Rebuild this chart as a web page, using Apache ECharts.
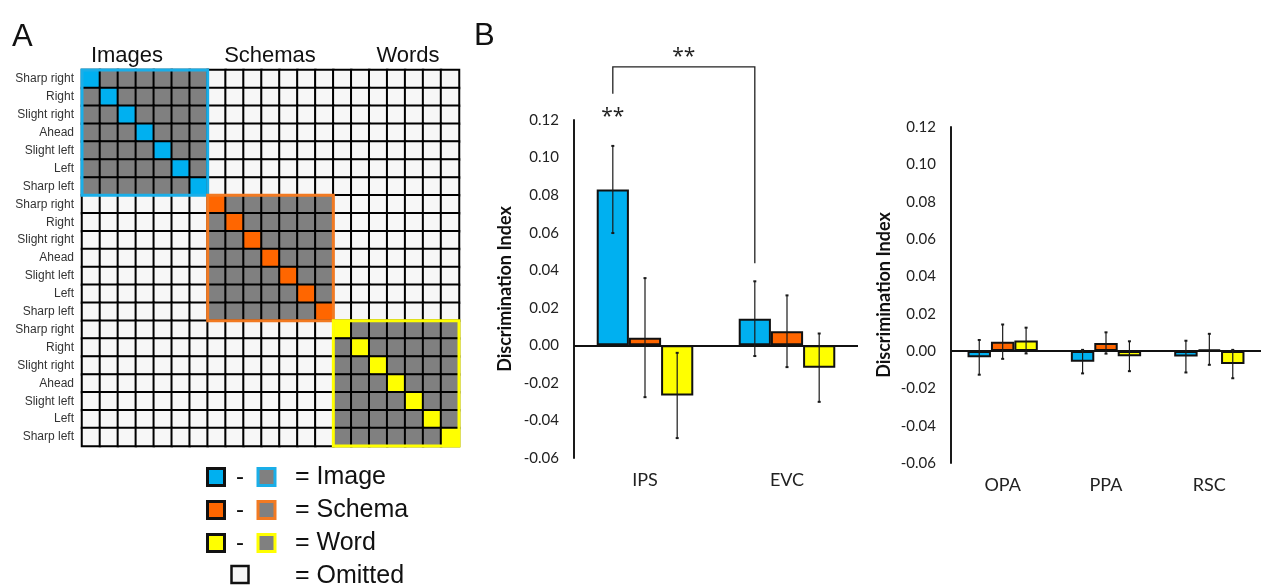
<!DOCTYPE html>
<html>
<head>
<meta charset="utf-8">
<script src="https://cdn.jsdelivr.net/npm/echarts@6/dist/echarts.min.js"></script>
<style>
html,body{margin:0;padding:0;background:#fff;}
#chart{width:1261px;height:588px;}
</style>
</head>
<body>
<div id="chart"></div>
<script>
// ---------- Panel A data ----------
const directions = ['Sharp right','Right','Slight right','Ahead','Slight left','Left','Sharp left'];
const blockNames = ['Images','Schemas','Words'];
const legendNames = ['Image','Schema','Word'];
// matrix codes: 0 = omitted, 1 = gray, B/O/Y = same-direction cell of each block
const matrixRows = [
  'B11111100000000000000',
  '1B1111100000000000000',
  '11B111100000000000000',
  '111B11100000000000000',
  '1111B1100000000000000',
  '11111B100000000000000',
  '111111B00000000000000',
  '0000000O1111110000000',
  '00000001O111110000000',
  '000000011O11110000000',
  '0000000111O1110000000',
  '00000001111O110000000',
  '000000011111O10000000',
  '0000000111111O0000000',
  '00000000000000Y111111',
  '000000000000001Y11111',
  '0000000000000011Y1111',
  '00000000000000111Y111',
  '000000000000001111Y11',
  '0000000000000011111Y1',
  '00000000000000111111Y'
];
const blockRanges = [[0,6],[7,13],[14,20]];

// ---------- Panel B data ----------
const regionsLeft = ['IPS','EVC'];
const imageLeft  = [0.0830, 0.0142];
const schemaLeft = [0.0041, 0.0075];
const wordLeft   = [-0.0267, -0.0119];
const imageLeftErr  = [0.0232, 0.0199];
const schemaLeftErr = [0.0317, 0.0191];
const wordLeftErr   = [0.0227, 0.0182];

const regionsRight = ['OPA','PPA','RSC'];
const imageRight  = [-0.0034, -0.0057, -0.0030];
const schemaRight = [0.0050, 0.0043, 0.0009];
const wordRight   = [0.0056, -0.0028, -0.0070];
const imageRightErr  = [0.0093, 0.0063, 0.0085];
const schemaRightErr = [0.0092, 0.0057, 0.0083];
const wordRightErr   = [0.0069, 0.0080, 0.0076];

const yTicks = [-0.06,-0.04,-0.02,0.00,0.02,0.04,0.06,0.08,0.10,0.12];

// ---------- styles ----------
const fillColors = ['#00B0F0','#FF6600','#FFFF00'];
const borderColors = ['#1AAEE8','#F27A22','#FFFF00'];
const GRAY = '#808080', WHITE = '#F7F7F7';
const SANS = '"Liberation Sans", Arial, sans-serif';
const CAL = 'Lato, "Open Sans", sans-serif';

const codeMap = {'0':0,'1':1,'B':2,'O':3,'Y':4};
const heatData = [];
matrixRows.forEach((row, r) => {
  row.split('').forEach((ch, c) => heatData.push([c, r, codeMap[ch]]));
});
const rowLabels = [].concat(directions, directions, directions);
const idx21 = matrixRows.map((_, i) => String(i));

const BAR_GAP_FRAC = 0.32;

function errRender(pos) {
  return function (params, api) {
    const cat = api.value(0), lo = api.value(1), hi = api.value(2);
    const band = api.size([1, 0])[0];
    const bw = band * (1 - BAR_GAP_FRAC) / 3;
    const pHi = api.coord([cat, hi]);
    const pLo = api.coord([cat, lo]);
    const x = pHi[0] + (pos - 1) * bw;
    const st = {stroke: '#1a1a1a', lineWidth: 1.2};
    return {type: 'group', children: [
      {type: 'line', shape: {x1: x, y1: pHi[1], x2: x, y2: pLo[1]}, style: st},
      {type: 'line', shape: {x1: x - 1.5, y1: pHi[1], x2: x + 1.5, y2: pHi[1]}, style: {stroke:'#1a1a1a', lineWidth: 2}},
      {type: 'line', shape: {x1: x - 1.5, y1: pLo[1], x2: x + 1.5, y2: pLo[1]}, style: {stroke:'#1a1a1a', lineWidth: 2}}
    ]};
  };
}
function errData(vals, errs) {
  return vals.map((v, i) => [i, v - errs[i], v + errs[i]]);
}

function barSeries(name, data, color, gi, withZero) {
  const s = {
    type: 'bar', name: name, data: data, xAxisIndex: gi, yAxisIndex: gi,
    barGap: '0%', barCategoryGap: (BAR_GAP_FRAC * 100) + '%',
    itemStyle: {color: color, borderColor: '#111', borderWidth: 2},
    emphasis: {disabled: true}, silent: true, z: 2
  };
  if (withZero) {
    s.markLine = {silent: true, symbol: 'none', label: {show: false},
      lineStyle: {color: '#111', width: 1.8, type: 'solid'}, data: [{yAxis: 0}], z: 3};
  }
  return s;
}

function yAxisCfg(gi, nameGap) {
  return {
    type: 'value', gridIndex: gi, min: -0.06, max: 0.12, interval: 0.02,
    axisLine: {show: true, lineStyle: {color: '#1a1a1a', width: 2}},
    axisTick: {show: false}, splitLine: {show: false},
    axisLabel: {fontFamily: CAL, fontSize: 15, color: '#222', margin: 15,
      formatter: v => v.toFixed(2)},
    name: 'Discrimination Index', nameLocation: 'middle', nameGap: nameGap,
    nameTextStyle: {fontFamily: CAL, fontWeight: 'bold', fontSize: 18, color: '#111'}
  };
}
function xAxisCfg(gi, cats) {
  return {
    type: 'category', gridIndex: gi, data: cats,
    axisLine: {show: false, onZero: false}, axisTick: {show: false},
    axisLabel: {fontFamily: CAL, fontSize: 18, color: '#222', margin: 13}
  };
}

// significance annotation (data units on the left panel)
const sigBracket = {top: 0.1483, leftEnd: 0.134, rightEnd: 0.0437, starsTop: 0.1535, starsBar: 0.1215};

const chart = echarts.init(document.getElementById('chart'), null, {renderer: 'canvas'});

const graphics = [
  {type: 'text', left: 12, top: 22, style: {text: 'A', font: '31px ' + SANS, fill: '#111'}},
  {type: 'text', left: 474, top: 21, style: {text: 'B', font: '31px ' + SANS, fill: '#111'}}
];
const headerX = [127, 270, 408];
blockNames.forEach((n, i) => {
  graphics.push({type: 'text', x: headerX[i], y: 56, style: {text: n, font: '22px ' + SANS, fill: '#111', align: 'center', verticalAlign: 'middle'}});
});
const legY = [477, 510, 543];
legendNames.forEach((n, i) => {
  const y = legY[i];
  graphics.push({type: 'rect', shape: {x: 207.5, y: y - 8.5, width: 17, height: 17}, style: {fill: fillColors[i], stroke: '#111', lineWidth: 3}});
  graphics.push({type: 'text', x: 240, y: y, style: {text: '-', font: '24px ' + SANS, fill: '#111', align: 'center', verticalAlign: 'middle'}});
  graphics.push({type: 'rect', shape: {x: 258, y: y - 8.5, width: 17, height: 17}, style: {fill: GRAY, stroke: borderColors[i], lineWidth: 3}});
  graphics.push({type: 'text', x: 295, y: y, style: {text: '= ' + n, font: '25px ' + SANS, fill: '#111', verticalAlign: 'middle'}});
});
graphics.push({type: 'rect', shape: {x: 231.5, y: 566, width: 17, height: 17}, style: {fill: WHITE, stroke: '#111', lineWidth: 2.5}});
graphics.push({type: 'text', x: 295, y: 576, style: {text: '= Omitted', font: '25px ' + SANS, fill: '#111', verticalAlign: 'middle'}});

const option = {
  backgroundColor: '#fff',
  animation: false,
  graphic: graphics,
  grid: [
    {left: 82, top: 70, width: 377, height: 376},
    {left: 574, top: 120, width: 284, height: 338},
    {left: 951, top: 127, width: 318, height: 336}
  ],
  visualMap: {
    show: false, type: 'piecewise', seriesIndex: 0, dimension: 2,
    pieces: [
      {value: 0, color: WHITE}, {value: 1, color: GRAY},
      {value: 2, color: fillColors[0]}, {value: 3, color: fillColors[1]}, {value: 4, color: fillColors[2]}
    ]
  },
  xAxis: [
    {type: 'category', gridIndex: 0, data: idx21, show: false},
    xAxisCfg(1, regionsLeft),
    xAxisCfg(2, regionsRight)
  ],
  yAxis: [
    {type: 'category', gridIndex: 0, data: idx21, inverse: true,
      axisLine: {show: false}, axisTick: {show: false},
      axisLabel: {interval: 0, margin: 8, fontFamily: SANS, fontSize: 12, color: '#333',
        padding: [4, 0, 0, 0], formatter: (v, i) => rowLabels[i]}},
    yAxisCfg(1, 60),
    yAxisCfg(2, 58)
  ],
  series: [
    {type: 'heatmap', xAxisIndex: 0, yAxisIndex: 0, data: heatData, silent: true,
      itemStyle: {borderColor: '#000', borderWidth: 2}, emphasis: {disabled: true}},
    {type: 'custom', xAxisIndex: 0, yAxisIndex: 0, silent: true, clip: false, z: 5,
      data: blockRanges.map((b, i) => [b[0], b[1], i]),
      renderItem: function (params, api) {
        const a = api.value(0), b = api.value(1), ci = api.value(2);
        const sz = api.size([1, 1]);
        const p1 = api.coord([a, a]), p2 = api.coord([b, b]);
        return {type: 'rect', shape: {x: p1[0] - sz[0] / 2, y: p1[1] - sz[1] / 2,
          width: p2[0] - p1[0] + sz[0], height: p2[1] - p1[1] + sz[1]},
          style: {fill: 'none', stroke: borderColors[ci], lineWidth: 3}};
      }},
    barSeries('Image', imageLeft, fillColors[0], 1, true),
    barSeries('Schema', schemaLeft, fillColors[1], 1, false),
    barSeries('Word', wordLeft, fillColors[2], 1, false),
    {type: 'custom', xAxisIndex: 1, yAxisIndex: 1, silent: true, z: 4, data: errData(imageLeft, imageLeftErr), renderItem: errRender(0)},
    {type: 'custom', xAxisIndex: 1, yAxisIndex: 1, silent: true, z: 4, data: errData(schemaLeft, schemaLeftErr), renderItem: errRender(1)},
    {type: 'custom', xAxisIndex: 1, yAxisIndex: 1, silent: true, z: 4, data: errData(wordLeft, wordLeftErr), renderItem: errRender(2)},
    barSeries('Image', imageRight, fillColors[0], 2, true),
    barSeries('Schema', schemaRight, fillColors[1], 2, false),
    barSeries('Word', wordRight, fillColors[2], 2, false),
    {type: 'custom', xAxisIndex: 2, yAxisIndex: 2, silent: true, z: 4, data: errData(imageRight, imageRightErr), renderItem: errRender(0)},
    {type: 'custom', xAxisIndex: 2, yAxisIndex: 2, silent: true, z: 4, data: errData(schemaRight, schemaRightErr), renderItem: errRender(1)},
    {type: 'custom', xAxisIndex: 2, yAxisIndex: 2, silent: true, z: 4, data: errData(wordRight, wordRightErr), renderItem: errRender(2)},
    // significance bracket between IPS and EVC image bars
    {type: 'custom', xAxisIndex: 1, yAxisIndex: 1, silent: true, clip: false, z: 6,
      data: [[0, 1]],
      renderItem: function (params, api) {
        const band = api.size([1, 0])[0];
        const bw = band * (1 - BAR_GAP_FRAC) / 3;
        const x1 = api.coord([api.value(0), 0])[0] - bw;
        const x2 = api.coord([api.value(1), 0])[0] - bw;
        const yT = api.coord([0, sigBracket.top])[1];
        const yL = api.coord([0, sigBracket.leftEnd])[1];
        const yR = api.coord([0, sigBracket.rightEnd])[1];
        const yS1 = api.coord([0, sigBracket.starsTop])[1];
        const yS2 = api.coord([0, sigBracket.starsBar])[1];
        const starFont = '21px "Open Sans", sans-serif';
        return {type: 'group', children: [
          {type: 'polyline', shape: {points: [[x1, yL], [x1, yT], [x2, yT], [x2, yR]]},
            style: {fill: 'none', stroke: '#222', lineWidth: 1.3}},
          {type: 'text', style: {x: (x1 + x2) / 2, y: yS1, text: '**', font: starFont, fill: '#222', align: 'center', verticalAlign: 'middle'}},
          {type: 'text', style: {x: x1, y: yS2, text: '**', font: starFont, fill: '#222', align: 'center', verticalAlign: 'middle'}}
        ]};
      }}
  ]
};
chart.setOption(option);
</script>
</body>
</html>
